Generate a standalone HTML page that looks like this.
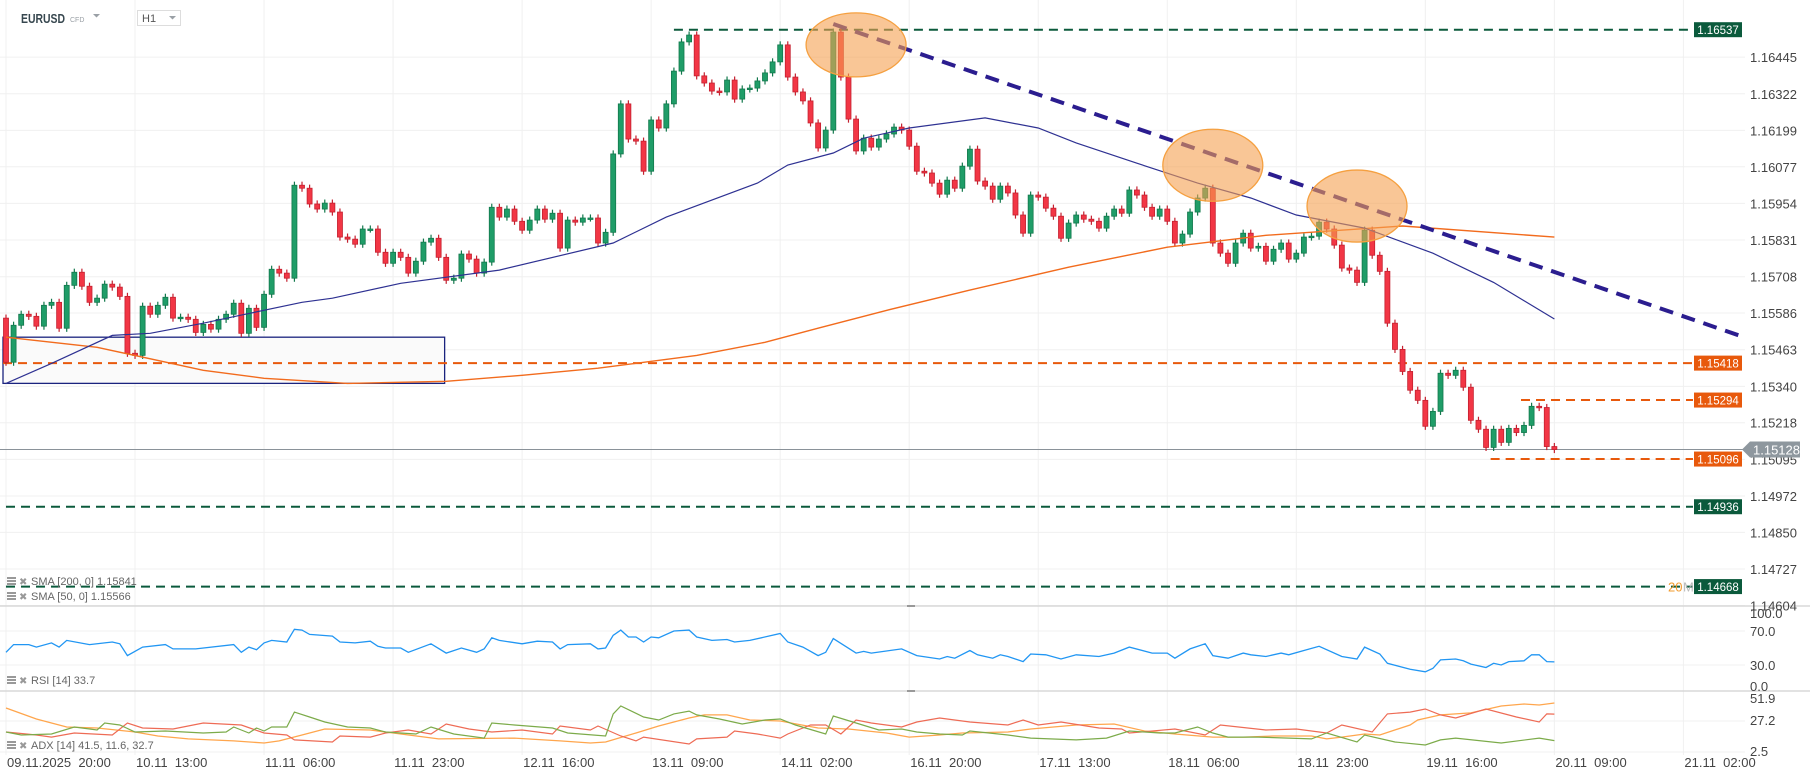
<!DOCTYPE html>
<html><head><meta charset="utf-8"><style>
html,body{margin:0;padding:0;background:#fff;}
svg{display:block;font-family:"Liberation Sans",sans-serif;}
</style></head><body>
<svg id="c" width="1810" height="779" viewBox="0 0 1810 779" xmlns="http://www.w3.org/2000/svg">
<rect x="0" y="0" width="1810" height="779" fill="#fff"/>
<g id="grid"></g>
<g id="ann"></g>
<g id="main"></g>
<g id="ov"></g>
<g id="sub"></g>
<g id="axes"></g>
<g>
  <text x="21" y="23" font-size="12.5" font-weight="bold" fill="#37474f" textLength="44" lengthAdjust="spacingAndGlyphs">EURUSD</text>
  <text x="70" y="22" font-size="7" fill="#9aa0a6">CFD</text>
  <path d="M93 14 L100 14 L96.5 17.5 Z" fill="#9aa0a6"/>
</g>
<g>
  <rect x="137.5" y="10.5" width="43" height="15" fill="#fff" stroke="#ddd"/>
  <text x="142" y="22" font-size="11" fill="#555">H1</text>
  <path d="M169 16 L176 16 L172.5 19.5 Z" fill="#9aa0a6"/>
</g>
</svg>
<script>
// ---------- data ----------
const firstOpen = 1.15569;
const closes = [
1.15421,1.15545,1.15582,1.15575,1.15542,1.15612,1.15622,1.15535,1.15679,1.15723,
1.15676,1.15622,1.15636,1.15683,1.15673,1.15642,1.15451,1.15444,1.15609,1.15582,
1.15612,1.15639,1.15569,1.15572,1.15565,1.15521,1.15548,1.15532,1.15565,1.15582,
1.15619,1.15518,1.15602,1.15538,1.15649,1.15733,1.15720,1.15703,1.16015,1.16005,
1.15952,1.15935,1.15955,1.15925,1.15841,1.15834,1.15817,1.15868,1.15868,1.15790,
1.15753,1.15790,
1.15773,1.15720,1.15760,1.15824,1.15837,1.15773,1.15696,1.15703,1.15784,1.15767,
1.15720,1.15757,1.15941,1.15908,1.15935,1.15894,1.15864,1.15898,1.15935,1.15901,
1.15921,1.15804,1.15898,1.15891,1.15905,1.15905,1.15821,1.15857,1.16120,1.16288,
1.16170,1.16163,1.16062,1.16234,1.16207,1.16288,1.16398,1.16496,1.16519,1.16382,
1.16358,1.16331,1.16328,1.16368,1.16304,1.16338,1.16341,1.16365,1.16392,1.16429,
1.16486,1.16378,1.16328,1.16298,
1.16224,1.16140,1.16200,1.16529,1.16378,1.16237,1.16130,1.16173,1.16143,1.16170,
1.16187,1.16210,1.16200,1.16146,1.16062,1.16056,1.16022,1.15985,1.16032,1.16005,
1.16079,1.16136,1.16029,1.16012,1.15968,1.16012,1.15989,1.15915,1.15854,1.15982,
1.15975,1.15938,1.15911,1.15837,1.15888,1.15915,1.15901,1.15894,1.15871,1.15911,
1.15935,1.15921,1.15999,1.15982,1.15941,1.15911,1.15935,1.15894,1.15821,1.15851,
1.15925,1.15972,1.16005,1.15821,
1.15787,1.15753,1.15821,1.15854,1.15804,1.15810,1.15760,1.15800,1.15821,1.15767,
1.15787,1.15841,1.15844,1.15891,1.15868,1.15814,1.15737,1.15730,1.15689,1.15864,
1.15780,1.15726,1.15552,1.15464,1.15390,1.15327,1.15293,1.15206,1.15256,1.15384,
1.15377,1.15394,1.15337,1.15226,1.15196,1.15135,1.15196,1.15152,1.15199,1.15185,
1.15209,1.15273,1.15269,1.15138,1.15128];
const wick = 0.00012;

const sma50Idx = [0,6,14,19,26,31,39,43,52,65,80,87,99,103,109,113,119,129,136,141,149,157,164,170,179,188,196,204];
const sma50Val = [1.15350,1.15417,1.15511,1.15518,1.15552,1.15579,1.15622,1.15636,1.15686,1.15730,1.15821,1.15908,1.16022,1.16083,1.16123,1.16173,1.16207,1.16241,1.16207,1.16157,1.16089,1.16022,1.15972,1.15915,1.15871,1.15787,1.15689,1.15566];
const sma200Idx = [0,12,26,34,45,58,68,78,91,100,107,116,127,140,153,166,184,204];
const sma200Val = [1.15505,1.15471,1.15394,1.15367,1.15350,1.15357,1.15377,1.15401,1.15444,1.15488,1.15535,1.15595,1.15663,1.15740,1.15807,1.15847,1.15878,1.15841];

const rsiIdx = [0,1,3,4,6,7,8,11,14,15,16,18,21,22,25,30,31,32,33,34,35,37,38,39,40,43,44,46,48,49,50,52,53,56,58,60,62,63,64,65,68,70,72,73,74,77,78,79,80,81,82,83,84,85,86,88,90,91,93,95,96,98,102,103,105,107,108,109,112,113,114,118,120,123,124,125,127,128,130,131,132,134,135,137,139,141,144,146,148,151,153,154,156,158,159,161,163,164,166,168,169,171,173,176,178,179,181,182,185,187,188,189,191,192,193,195,196,197,198,200,201,202,203,204];
const rsiVal = [45,54,54,51,56,51,59,54,57,55,41,51,54,49,49,54,45,51,48,56,59,57,72,71,66,64,57,56,58,52,50,50,45,55,44,50,45,49,62,59,55,58,57,49,54,55,49,50,65,71,63,63,57,63,62,70,71,63,59,60,57,59,67,57,51,41,45,61,44,46,44,49,41,37,40,38,47,42,38,42,40,34,43,42,37,42,40,44,51,44,44,38,49,55,41,38,44,42,40,44,42,47,52,40,37,51,43,32,25,22,26,36,37,35,31,27,32,30,34,35,42,42,34,33.7];

const adxIdx = [0,4,6,8,12,17,20,24,30,34,36,39,42,48,51,57,67,73,77,79,83,86,90,92,95,98,102,107,111,116,119,123,126,132,135,141,146,150,154,159,163,167,172,174,176,179,181,185,186,189,193,197,200,202,204];
const adxVal = [37.5,28.8,25.6,22.4,21.6,18.4,15.2,12.9,11.3,9.7,11.3,16,20.8,20,17.6,12.9,13.6,11.3,9.7,10.5,17.6,23.2,29.6,32,32,28,27.2,21.6,20.8,17.6,14.4,16,17.6,18.4,20.8,24,24.8,19.2,16.8,14.4,14.4,15.2,15.2,12.9,14.4,16.8,16,24,28,32,33.6,39.1,40.7,39.9,41.5];
const minusDiIdx = [0,4,6,9,14,16,18,22,26,31,34,37,38,43,44,48,50,53,56,58,61,64,68,72,73,77,78,81,83,84,90,91,95,96,99,102,103,106,108,110,112,114,118,120,123,127,132,134,136,139,144,147,148,154,158,160,166,170,174,176,180,182,185,187,189,191,195,199,202,203,204];
const minusDiVal = [18.4,16,14.4,17.6,16,25.6,21.6,20.8,25.6,24,17.6,16,12.1,10.5,15.2,14.4,17.6,20,16.8,24.8,20.8,18.4,20,16.8,23.2,20,23.2,15.2,11.3,14.4,8.9,12.9,14.4,19.2,16.8,13.6,16.8,24,24,16.8,28,25.6,22.4,26.4,29.6,26.4,24,28,24,26.4,21.6,20.8,17.6,20.8,16,24,20,20.8,17.6,24,18.4,32.8,34.3,36.7,32,29.6,36.7,30.4,26.4,32.8,32.7];
const plusDiIdx = [0,2,6,9,12,13,15,17,21,26,29,30,32,33,34,35,37,38,40,42,45,48,50,54,56,59,63,64,67,72,74,79,80,81,84,86,88,90,91,94,97,100,102,104,108,109,112,115,118,120,123,126,127,132,135,141,145,148,152,154,157,159,161,165,172,174,178,179,183,187,189,191,197,202,204];
const plusDiVal = [18.4,16,16.8,22.4,20,25.6,24,18.4,19.2,17.6,18.4,22.4,17.6,21.6,19.2,22.4,22.4,34.3,30.4,26.4,22.4,21.6,18.4,16.8,22.4,16.8,13.6,25.6,24,21.6,17.6,15.2,32.8,39.1,30.4,28,32.8,35.1,32,28.8,24.8,28,28.8,24,16.8,31.2,25.6,20,20.8,18.4,16.8,16,19.2,16,13.6,12.1,13.6,19.2,17.6,17.6,22.4,17.6,14.4,14.4,12.9,17.6,10.5,16,10.5,8.1,12.1,13.6,9.7,13.6,11.6];

const priceTicks = [1.16445,1.16322,1.16199,1.16077,1.15954,1.15831,1.15708,1.15586,1.15463,1.15340,1.15218,1.15095,1.14972,1.14850,1.14727,1.14604];
const timeLabels = ["09.11.2025  20:00","10.11  13:00","11.11  06:00","11.11  23:00","12.11  16:00","13.11  09:00","14.11  02:00","16.11  20:00","17.11  13:00","18.11  06:00","18.11  23:00","19.11  16:00","20.11  09:00","21.11  02:00"];
const labelEvery = 17;
const rsiTicks = [100,70,30,0];
const rsiTickText = ["100.0","70.0","30.0","0.0"];
const adxTicks = [51.9,27.2,2.5];

const greenLevels = [1.16537,1.14936,1.14668];
const greenStart = [88,0,0];
const orangeLevels = [1.15418,1.15294,1.15096];
const orangeStart = [0,200,196];
const lastPrice = 1.15128;
const trendIdx = [109,229];
const trendVal = [1.16556,1.15505];
const boxIdx = [0,57];
const boxVal = [1.15505,1.15350];
const ellIdx = [112,159,178];
const ellVal = [1.16486,1.16082,1.15945];

// ---------- scales ----------
const NS = "http://www.w3.org/2000/svg";
const xI = i => 6 + i * 7.59;
const yP = p => 496 + (1.14972 - p) * 29796;
const yR = v => 690.5 - v * 0.85;
const yA = v => 752 - (v - 2.5) * 1.256;
const PLOT_R = 1745;
function mk(tag, attrs, parent) {
  const e = document.createElementNS(NS, tag);
  for (const k in attrs) e.setAttribute(k, attrs[k]);
  parent.appendChild(e);
  return e;
}
const G = id => document.getElementById(id);

// ---------- grid ----------
const grid = G('grid');
for (let k = 0; k < timeLabels.length; k++) {
  const x = xI(k * labelEvery);
  const l = mk('line', {x1:x, x2:x, y1:0, y2:755, stroke:'#f0f0f0', 'stroke-width':1}, grid);
  
  
}
priceTicks.forEach(p => {
  const y = yP(p);
  const l = mk('line', {x1:0, x2:PLOT_R, y1:y, y2:y, stroke:'#f0f0f0'}, grid);
  
  
});
[70,30].forEach(v => {
  const l = mk('line', {x1:0, x2:PLOT_R, y1:yR(v), y2:yR(v), stroke:'#f0f0f0'}, grid);
  
  
});
[27.2,2.5].forEach(v => {
  const l = mk('line', {x1:0, x2:PLOT_R, y1:yA(v), y2:yA(v), stroke:'#f0f0f0'}, grid);
  
  
});

// ---------- annotations (box, levels) ----------
const ann = G('ann');
{
  const x1 = xI(boxIdx[0]) - 3, x2 = xI(boxIdx[1]) + 6;
  const b = mk('rect', {x:x1, y:yP(boxVal[0]), width:x2 - x1, height:yP(boxVal[1]) - yP(boxVal[0]), fill:'#fafafa', stroke:'#1a237e', 'stroke-width':1.3}, ann);
  
  
}
const lp = mk('line', {x1:0, x2:PLOT_R, y1:yP(lastPrice), y2:yP(lastPrice), stroke:'#8a9299', 'stroke-width':1}, ann);


greenLevels.forEach((p, i) => {
  const l = mk('line', {x1:xI(greenStart[i]), x2:1693, y1:yP(p), y2:yP(p), stroke:'#0b5a3c', 'stroke-width':2, 'stroke-dasharray':'9 6'}, ann);
  
  
});
orangeLevels.forEach((p, i) => {
  const l = mk('line', {x1:xI(orangeStart[i]) - 3, x2:1693, y1:yP(p), y2:yP(p), stroke:'#e8590c', 'stroke-width':2, 'stroke-dasharray':'9 6'}, ann);
  
  
});

// ---------- candles ----------
const main = G('main');
let prev = firstOpen;
closes.forEach((c, i) => {
  const o = prev; prev = c;
  const up = c >= o;
  const x = xI(i);
  const hi = Math.max(o, c) + wick, lo = Math.min(o, c) - wick;
  const col = up ? '#1f9d68' : '#f23645';
  const bd = up ? '#12784c' : '#c4202f';
  const g = mk('g', {}, main);
  
  
  mk('line', {x1:x, x2:x, y1:yP(hi), y2:yP(lo), stroke:bd, 'stroke-width':1.2}, g);
  const top = yP(Math.max(o, c)), h = Math.max(1.5, yP(Math.min(o, c)) - top);
  mk('rect', {x:x - 2.5, y:top, width:5, height:h, fill:col, stroke:bd, 'stroke-width':0.8}, g);
});

// ---------- overlays ----------
const ov = G('ov');
function pathFrom(idx, val, ys) {
  return idx.map((k, j) => (j ? 'L' : 'M') + xI(k).toFixed(1) + ' ' + ys(val[j]).toFixed(1)).join(' ');
}
const s200 = mk('path', {d:pathFrom(sma200Idx, sma200Val, yP), fill:'none', stroke:'#f26b1d', 'stroke-width':1.4}, ov);


const s50 = mk('path', {d:pathFrom(sma50Idx, sma50Val, yP), fill:'none', stroke:'#2e3192', 'stroke-width':1.2}, ov);


const tl = mk('line', {x1:xI(trendIdx[0]), y1:yP(trendVal[0]), x2:xI(trendIdx[1]), y2:yP(trendVal[1]), stroke:'#2b1d8f', 'stroke-width':4, 'stroke-dasharray':'14 9'}, ov);


ellIdx.forEach((k, j) => {
  const e = mk('ellipse', {cx:xI(k), cy:yP(ellVal[j]), rx:50, ry:j ? 36 : 32, fill:'rgba(245,160,80,0.6)', stroke:'#f5a040', 'stroke-width':1.3}, ov);
  
  
});

// ---------- sub panels ----------
const sub = G('sub');
[606,691].forEach(y => {
  const l = mk('line', {x1:0, x2:1810, y1:y, y2:y, stroke:'#d8d8d8', 'stroke-width':1.5}, sub);
  
  
  const h = mk('rect', {x:907, y:y - 1, width:8, height:2, fill:'#999'}, sub);
  
  
});
const rsi = mk('path', {d:pathFrom(rsiIdx, rsiVal, yR), fill:'none', stroke:'#2196f3', 'stroke-width':1.3}, sub);


const adx = mk('path', {d:pathFrom(adxIdx, adxVal, yA), fill:'none', stroke:'#ffa64d', 'stroke-width':1.3}, sub);


const mdi = mk('path', {d:pathFrom(minusDiIdx, minusDiVal, yA), fill:'none', stroke:'#ee6b55', 'stroke-width':1.2}, sub);


const pdi = mk('path', {d:pathFrom(plusDiIdx, plusDiVal, yA), fill:'none', stroke:'#7cab4a', 'stroke-width':1.2}, sub);



// legends
function legend(y, txt, name) {
  const g = mk('g', {}, sub);
  
  
  mk('rect', {x:7, y:y - 8, width:9, height:2, fill:'#999'}, g);
  mk('rect', {x:7, y:y - 5, width:9, height:2, fill:'#999'}, g);
  mk('rect', {x:7, y:y - 2, width:9, height:2, fill:'#999'}, g);
  const t0 = mk('text', {x:19, y:y, 'font-size':10, fill:'#999'}, g);
  t0.textContent = '✖';
  const t = mk('text', {x:31, y:y, 'font-size':11, fill:'#666'}, g);
  t.textContent = txt;
}
legend(585, 'SMA [200, 0] 1.15841', 'sma-200-legend');
legend(600, 'SMA [50, 0] 1.15566', 'sma-50-legend');
legend(684, 'RSI [14] 33.7', 'rsi-legend');
legend(749, 'ADX [14] 41.5, 11.6, 32.7', 'adx-legend');

// ---------- axes ----------
const axes = G('axes');
priceTicks.forEach(p => {
  const t = mk('text', {x:1750, y:yP(p) + 5, 'font-size':13, fill:'#444'}, axes);
  
  
  t.textContent = p.toFixed(5);
});
rsiTicks.forEach((v, j) => {
  const y = j === 0 ? 618 : (j === 3 ? 691 : yR(v) + 5);
  const t = mk('text', {x:1750, y:y, 'font-size':13, fill:'#444'}, axes);
  
  
  t.textContent = rsiTickText[j];
});
adxTicks.forEach((v, j) => {
  const y = j === 0 ? 703 : yA(v) + 4;
  const t = mk('text', {x:1750, y:y, 'font-size':13, fill:'#444'}, axes);
  
  
  t.textContent = v.toFixed(1);
});
timeLabels.forEach((s, k) => {
  const t = mk('text', {x:xI(k * labelEvery) + 1, y:767, 'font-size':13, fill:'#444', 'xml:space':'preserve', style:'white-space:pre'}, axes);
  
  
  t.textContent = s;
});
function tag(p, bg, name) {
  const y = yP(p);
  const g = mk('g', {}, axes);
  
  
  mk('rect', {x:1694, y:y - 7.5, width:48, height:15, fill:bg}, g);
  const t = mk('text', {x:1718, y:y + 4.5, 'font-size':11.5, fill:'#fff', 'text-anchor':'middle'}, g);
  t.textContent = p.toFixed(5);
}
greenLevels.forEach(p => tag(p, '#0b5a3c', 'level-price-tag'));
orangeLevels.forEach(p => tag(p, '#e8590c', 'level-price-tag'));
{
  const y = yP(lastPrice);
  const g = mk('g', {}, axes);
  
  
  mk('path', {d:`M1742 ${y} L1750 ${y - 8} L1800 ${y - 8} L1800 ${y + 8} L1750 ${y + 8} Z`, fill:'#8e979e'}, g);
  const t = mk('text', {x:1753, y:y + 5, 'font-size':13, fill:'#fff'}, g);
  t.textContent = lastPrice.toFixed(5);
}
{
  const t = mk('text', {x:1668, y:yP(1.14668) + 5, 'font-size':13, fill:'#f29b2e'}, axes);
  
  
  t.textContent = '20';
  const t2 = mk('text', {x:1683, y:yP(1.14668) + 5, 'font-size':13, fill:'#bbb'}, axes);
  
  
  t2.textContent = 'M';
}
</script>
</body></html>
